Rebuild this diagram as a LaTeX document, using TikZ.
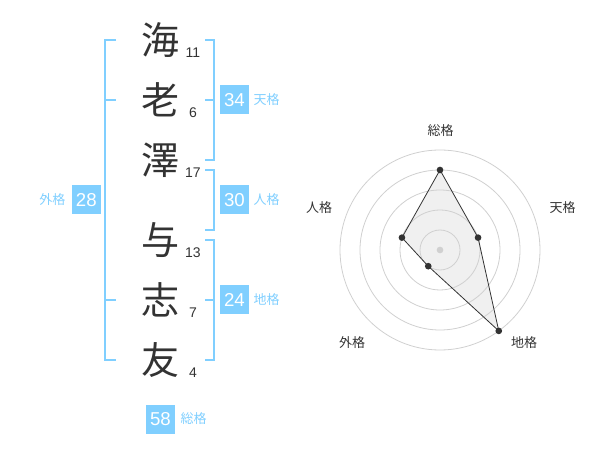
\documentclass[tikz,border=0pt]{standalone}
\usepackage{fontspec}
\setmainfont{Liberation Sans}
\newfontfamily\cjk{Noto Sans CJK JP}
\usetikzlibrary{calc,positioning}
\definecolor{skyblue}{HTML}{80CFFF}
\definecolor{inkgray}{HTML}{333333}
\definecolor{ringgray}{HTML}{D0D0D0}
\definecolor{fillgray}{HTML}{F0F0F0}

\begin{document}
\begin{tikzpicture}[x=0.75pt,y=-0.75pt,node distance=45pt,inner sep=0pt]
\tikzstyle{kanji}=[font=\cjk\fontsize{28.5pt}{30pt}\selectfont,text=inkgray]
\tikzstyle{strokes}=[font=\fontsize{10.5pt}{12pt}\selectfont,text=inkgray]
\tikzstyle{scorebox}=[fill=skyblue,text=white,minimum size=21.75pt,font=\fontsize{14pt}{16pt}\selectfont]
\tikzstyle{kaku}=[font=\cjk\fontsize{9.75pt}{11pt}\selectfont,text=skyblue]
\tikzstyle{bracket}=[draw=skyblue,line width=1.5pt]
\tikzstyle{axislabel}=[font=\cjk\fontsize{9.75pt}{11pt}\selectfont,text=inkgray]
\tikzstyle{dot}=[circle,fill=inkgray,minimum size=5pt]

\useasboundingbox (0,0) rectangle (600,470);

% name, one kanji per row
\node[kanji] (kai) at (160,40) {海};
\node[kanji,on grid] (ro) [below=of kai] {老};
\node[kanji,on grid] (taku) [below=of ro] {澤};
\node[kanji,on grid] (yo) [below=60pt of taku] {与};
\node[kanji,on grid] (shi) [below=of yo] {志};
\node[kanji,on grid] (tomo) [below=of shi] {友};

% stroke counts
\node[strokes] (nkai) at ($(kai)+(33,13)$) {11};
\node[strokes] (nro) at ($(ro)+(33,13)$) {6};
\node[strokes] (ntaku) at ($(taku)+(33,13)$) {17};
\node[strokes] (nyo) at ($(yo)+(33,13)$) {13};
\node[strokes] (nshi) at ($(shi)+(33,13)$) {7};
\node[strokes] (ntomo) at ($(tomo)+(33,13)$) {4};

% brackets
\coordinate (gl) at (105,0);
\coordinate (gt) at (116,0);
\coordinate (rl) at (205,0);
\coordinate (rr) at (214,0);
\draw[bracket] (kai -| gt) -- (kai -| gl) -- (tomo -| gl) -- (tomo -| gt);
\draw[bracket] (ro -| gl) -- (ro -| gt);
\draw[bracket] (shi -| gl) -- (shi -| gt);
\draw[bracket] (kai -| rl) -- (kai -| rr) -- (taku -| rr) -- (taku -| rl);
\draw[bracket] (ro -| rr) -- (ro -| rl);
\draw[bracket] ($(taku -| rl)+(0,10)$) -- ($(taku -| rr)+(0,10)$) -- ($(yo -| rr)+(0,-10)$) -- ($(yo -| rl)+(0,-10)$);
\draw[bracket] (yo -| rl) -- (yo -| rr) -- (tomo -| rr) -- (tomo -| rl);
\draw[bracket] (shi -| rr) -- (shi -| rl);

% scores
\node[scorebox] (ten) at (234.5,100) {34};
\node[kaku,right=3pt of ten] (tenl) {天格};
\node[scorebox] (jin) at (234.5,200) {30};
\node[kaku,right=3pt of jin] (jinl) {人格};
\node[scorebox] (chi) at (234.5,300) {24};
\node[kaku,right=3pt of chi] (chil) {地格};
\node[scorebox] (gai) at (86.3,200) {28};
\node[kaku,left=4.5pt of gai] (gail) {外格};
\node[scorebox] (sou) at (160.5,419) {58};
\node[kaku,right=3.75pt of sou] (soul) {総格};

% radar chart
\coordinate (c) at (440,250);
\coordinate (psou) at ($(c)+(-90:80)$);
\coordinate (pten) at ($(c)+(-18:40)$);
\coordinate (pchi) at ($(c)+(54:100)$);
\coordinate (pgai) at ($(c)+(126:20)$);
\coordinate (pjin) at ($(c)+(-162:40)$);
\fill[fillgray] (psou) -- (pten) -- (pchi) -- (pgai) -- (pjin) -- cycle;
\foreach \r in {20,40,60,80,100}
  \draw[ringgray,line width=0.6pt] (c) circle[radius=\r];
\draw[inkgray,line width=0.6pt] (psou) -- (pten) -- (pchi) -- (pgai) -- (pjin) -- cycle;
\node[circle,fill=ringgray,minimum size=5pt] (mid) at (c) {};
\foreach \p in {psou,pten,pchi,pgai,pjin}
  \node[dot] (d\p) at (\p) {};

\node[axislabel] (asou) at (440.5,130.5) {総格};
\node[axislabel] (aten) at (562.5,208) {天格};
\node[axislabel] (achi) at (524,342.5) {地格};
\node[axislabel] (agai) at (352,342.5) {外格};
\node[axislabel] (ajin) at (319,208) {人格};
\end{tikzpicture}
\end{document}
